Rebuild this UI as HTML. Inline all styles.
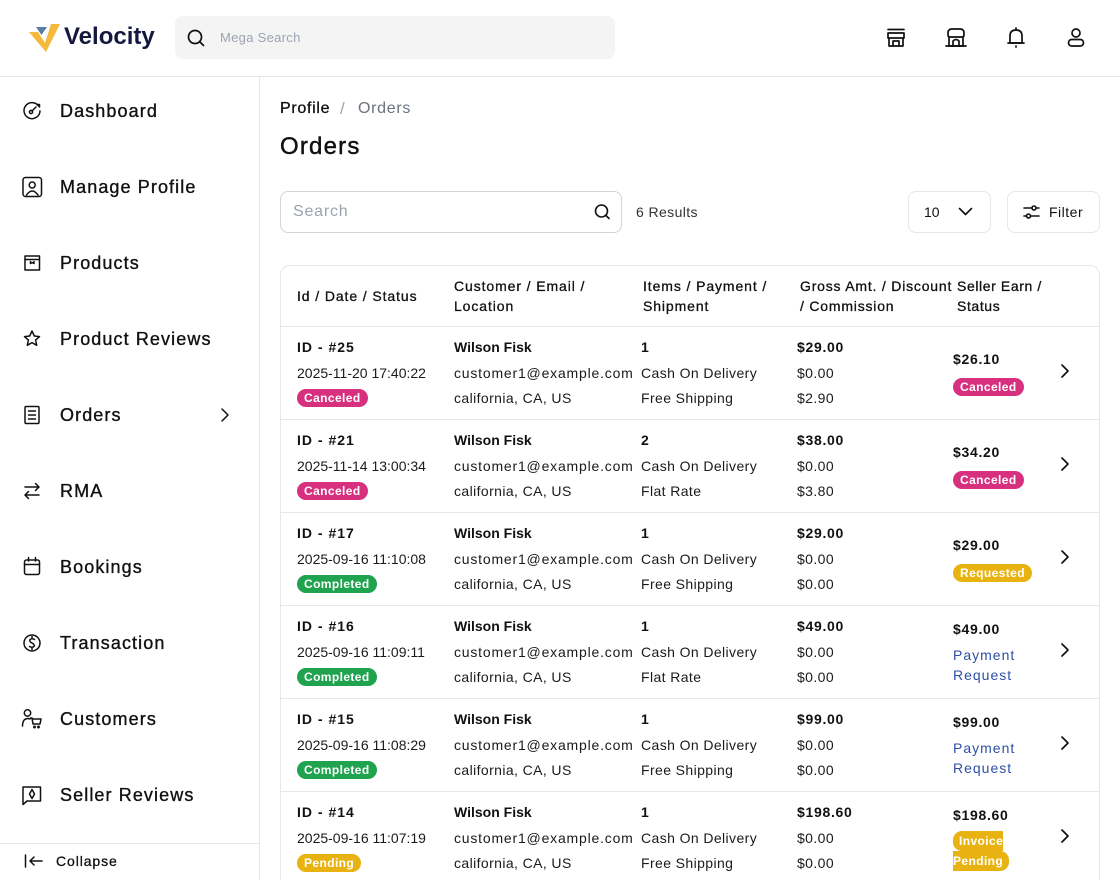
<!DOCTYPE html>
<html>
<head>
<meta charset="utf-8">
<style>
*{box-sizing:border-box;}
html{margin:0;padding:0;width:1120px;height:880px;overflow:hidden;}
body{margin:0;padding:0;width:1120px;height:880px;overflow:hidden;position:relative;background:#fff;font-family:"Liberation Sans",sans-serif;color:#111;}
.a{position:absolute;white-space:nowrap;}
.nav{position:absolute;left:60px;font-size:18px;line-height:24px;height:24px;letter-spacing:1.1px;-webkit-text-stroke:0.35px #111;color:#111;}
.t{position:absolute;white-space:nowrap;font-size:14px;line-height:20px;height:20px;letter-spacing:0.4px;color:#1a1a1a;}
.b{font-weight:bold;color:#111;}
.th{position:absolute;white-space:nowrap;font-size:14px;line-height:20px;letter-spacing:0.9px;-webkit-text-stroke:0.3px #111;color:#111;}
.badge{position:absolute;height:18px;line-height:18px;border-radius:9px;padding:0 7px;color:#fff;font-weight:bold;font-size:12px;letter-spacing:0.4px;white-space:nowrap;}
.pink{background:#d6307f;}
.green{background:#1fa34e;}
.yel{background:#e8b310;}
.hl{position:absolute;left:0;right:0;height:1px;background:#e5e7eb;}
.blue{color:#2c4fa6;letter-spacing:1px;}
svg{position:absolute;overflow:visible;}
</style>
</head>
<body>

<!-- Header -->
<svg style="left:0;top:0" width="70" height="60">
  <polygon points="29,32 38,32 45,43 51,24 60,24 46,52" fill="#f6b93b"/>
  <polygon points="36,27 47,27 41.5,35" fill="#5a7ea6"/>
</svg>
<div class="a" style="left:64px;top:22px;font-size:24px;line-height:30px;font-weight:bold;color:#15173f;letter-spacing:0px;">Velocity</div>

<div class="a" style="left:175px;top:16px;width:440px;height:43px;background:#f4f4f5;border-radius:8px;"></div>
<svg style="left:0;top:0" width="10" height="10">
  <circle cx="195" cy="37" r="6.5" fill="none" stroke="#111" stroke-width="1.7"/>
  <line x1="199.5" y1="41.5" x2="203.5" y2="45.5" stroke="#111" stroke-width="1.7" stroke-linecap="round"/>
</svg>
<div class="a" style="left:220px;top:29px;font-size:13px;line-height:18px;color:#9ca3af;letter-spacing:0.3px;">Mega Search</div>

<svg style="left:0;top:0" width="10" height="10" fill="none" stroke="#111" stroke-width="1.7" stroke-linejoin="round" stroke-linecap="round">
  <!-- store 1 -->
  <line x1="888" y1="29.5" x2="904" y2="29.5"/>
  <rect x="888" y="33" width="16" height="5"/>
  <path d="M889 38 V46 H903 V38"/>
  <path d="M893 46 V41 H899 V46"/>
  <!-- store 2 -->
  <path d="M948 33 Q948 29 952 29 H960 Q964 29 964 33 V35 Q964 37 962 37 H950 Q948 37 948 35 Z"/>
  <path d="M949 37 V46 H963 V37"/>
  <path d="M953 46 V41 Q956 38 959 41 V46"/>
  <line x1="946" y1="46" x2="966" y2="46"/>
  <!-- bell -->
  <path d="M1010 43 V36 Q1010 30 1016 30 Q1022 30 1022 36 V43 Z"/>
  <line x1="1008" y1="43" x2="1024" y2="43"/>
  <line x1="1016" y1="28" x2="1016" y2="30"/>
  <line x1="1016" y1="46" x2="1016" y2="47"/>
  <!-- user -->
  <circle cx="1076" cy="33" r="4"/>
  <rect x="1068.5" y="39.5" width="15" height="6.5" rx="3.2"/>
</svg>

<div class="a" style="left:0;top:76px;width:1120px;height:1px;background:#e5e7eb;"></div>

<!-- Sidebar -->
<div class="a" style="left:259px;top:77px;width:1px;height:803px;background:#e5e7eb;"></div>
<div class="a" style="left:0;top:843px;width:259px;height:1px;background:#e5e7eb;"></div>

<svg style="left:0;top:0" width="10" height="10" fill="none" stroke="#111" stroke-width="1.5" stroke-linejoin="round" stroke-linecap="round">
  <!-- dashboard -->
  <path d="M38.5 106 A8 8 0 1 0 40 111"/>
  <circle cx="31" cy="112" r="1.6"/>
  <line x1="32" y1="111" x2="36" y2="107"/>
  <path d="M37 104.5 L39.5 104.5 L39.5 107"/>
  <!-- manage profile -->
  <rect x="23" y="177.5" width="18.5" height="19" rx="2.5"/>
  <circle cx="32.2" cy="185" r="3"/>
  <path d="M26.5 195 Q32.2 187 38 195"/>
  <!-- products -->
  <rect x="25" y="256" width="14.5" height="14"/>
  <line x1="25" y1="259.5" x2="39.5" y2="259.5"/>
  <path d="M30.5 261.5 V263.5 L32.2 262.5 L34 263.5 V261.5"/>
  <!-- star -->
  <path d="M32 331 L34.3 336 L39.5 336.6 L35.6 340.1 L36.7 345.3 L32 342.6 L27.3 345.3 L28.4 340.1 L24.5 336.6 L29.7 336 Z"/>
  <!-- orders -->
  <rect x="25" y="406.5" width="14" height="17" rx="1.2"/>
  <line x1="28.5" y1="411" x2="35.5" y2="411"/>
  <line x1="28.5" y1="415" x2="35.5" y2="415"/>
  <line x1="28.5" y1="419" x2="35.5" y2="419"/>
  <!-- rma -->
  <path d="M25 487 H39 M35.5 483.5 L39 487 L35.5 490.5"/>
  <path d="M39 495 H25 M28.5 491.5 L25 495 L28.5 498.5"/>
  <!-- bookings -->
  <rect x="24.5" y="560" width="15" height="14.5" rx="2"/>
  <line x1="24.5" y1="564.5" x2="39.5" y2="564.5"/>
  <line x1="28.5" y1="557.5" x2="28.5" y2="561"/>
  <line x1="35.5" y1="557.5" x2="35.5" y2="561"/>
  <!-- transaction -->
  <circle cx="32" cy="643" r="8"/>
  <path d="M34.5 639.5 Q32 638 30 639.5 Q29 641.5 32 643 Q35 644.5 34 646.5 Q32 648 29.5 646.5"/>
  <line x1="32" y1="636.5" x2="32" y2="638"/>
  <line x1="32" y1="648" x2="32" y2="649.5"/>
  <!-- customers -->
  <circle cx="27.5" cy="713" r="3.2"/>
  <path d="M22.5 726 Q22.5 719 27.5 718.5 Q29 718.5 30 719"/>
  <path d="M30.5 718 H32 L33 724 H40 L41 719 H33"/>
  <circle cx="34.5" cy="727" r="0.7"/>
  <circle cx="38.5" cy="727" r="0.7"/>
  <!-- seller reviews -->
  <path d="M23 787 H40.5 V801 H27 L23 804.5 Z"/>
  <path d="M32 789.5 L34.5 794 L32 798.5 L29.5 794 Z"/>
  <!-- orders chevron -->
  <polyline points="222,409 228,415 222,421"/>
  <!-- collapse -->
  <line x1="25.5" y1="855" x2="25.5" y2="867"/>
  <path d="M42 861 H30 M34 857 L30 861 L34 865"/>
</svg>

<div class="nav" style="top:99px;">Dashboard</div>
<div class="nav" style="top:175px;">Manage Profile</div>
<div class="nav" style="top:251px;">Products</div>
<div class="nav" style="top:327px;">Product Reviews</div>
<div class="nav" style="top:403px;">Orders</div>
<div class="nav" style="top:479px;">RMA</div>
<div class="nav" style="top:555px;">Bookings</div>
<div class="nav" style="top:631px;">Transaction</div>
<div class="nav" style="top:707px;">Customers</div>
<div class="nav" style="top:783px;">Seller Reviews</div>
<div class="a" style="left:56px;top:851px;font-size:14px;line-height:20px;letter-spacing:0.9px;-webkit-text-stroke:0.3px #111;">Collapse</div>

<!-- Main -->
<div class="a" style="left:280px;top:98px;font-size:16px;line-height:22px;letter-spacing:0.7px;-webkit-text-stroke:0.3px #111;">Profile</div>
<div class="a" style="left:340px;top:98px;font-size:17px;line-height:22px;color:#9ca3af;">/</div>
<div class="a" style="left:358px;top:98px;font-size:16px;line-height:22px;letter-spacing:0.7px;color:#6b7280;">Orders</div>
<div class="a" style="left:280px;top:132px;font-size:24px;line-height:30px;letter-spacing:1.2px;-webkit-text-stroke:0.45px #111;">Orders</div>

<div class="a" style="left:280px;top:191px;width:342px;height:42px;border:1px solid #d1d5db;border-radius:8px;"></div>
<div class="a" style="left:293px;top:201px;font-size:16px;line-height:22px;color:#9ca3af;letter-spacing:0.8px;">Search</div>
<svg style="left:0;top:0" width="10" height="10" fill="none" stroke="#111" stroke-width="1.6" stroke-linecap="round" stroke-linejoin="round">
  <circle cx="601.5" cy="211" r="6"/>
  <line x1="606" y1="215.5" x2="609" y2="218.5"/>
  <polyline points="959.5,208.5 965.5,214.5 971.5,208.5"/>
  <line x1="1024" y1="208" x2="1039" y2="208"/>
  <line x1="1024" y1="216" x2="1039" y2="216"/>
  <circle cx="1034" cy="208" r="2" fill="#fff"/>
  <circle cx="1028.5" cy="216" r="2" fill="#fff"/>
</svg>
<div class="a" style="left:636px;top:202px;font-size:14px;line-height:20px;letter-spacing:0.4px;color:#333;">6 Results</div>

<div class="a" style="left:908px;top:191px;width:83px;height:42px;border:1px solid #e5e7eb;border-radius:8px;"></div>
<div class="a" style="left:924px;top:202px;font-size:14px;line-height:20px;">10</div>
<div class="a" style="left:1007px;top:191px;width:93px;height:42px;border:1px solid #e5e7eb;border-radius:8px;"></div>
<div class="a" style="left:1049px;top:202px;font-size:14px;line-height:20px;letter-spacing:0.5px;">Filter</div>

<!-- Table -->
<div class="a" style="left:280px;top:265px;width:820px;height:615px;border:1px solid #e5e7eb;border-bottom:none;border-radius:10px 10px 0 0;"></div>
<div class="a" style="left:280px;top:326px;width:820px;height:554px;">
  <div class="hl" style="top:0"></div>
  <div class="hl" style="top:93px"></div>
  <div class="hl" style="top:186px"></div>
  <div class="hl" style="top:279px"></div>
  <div class="hl" style="top:372px"></div>
  <div class="hl" style="top:465px"></div>
</div>

<div class="th" style="left:297px;top:286px;">Id / Date / Status</div>
<div class="th" style="left:454px;top:276px;">Customer / Email /<br>Location</div>
<div class="th" style="left:643px;top:276px;">Items / Payment /<br>Shipment</div>
<div class="th" style="left:800px;top:276px;letter-spacing:0.8px;">Gross Amt. / Discount<br>/ Commission</div>
<div class="th" style="left:957px;top:276px;letter-spacing:0.6px;">Seller Earn /<br>Status</div>

<!-- Row 1: top 326 -->
<div class="t b" style="left:297px;top:337px;letter-spacing:1px;">ID - #25</div>
<div class="t" style="left:297px;top:363px;letter-spacing:0;">2025-11-20 17:40:22</div>
<div class="badge pink" style="left:297px;top:389px;">Canceled</div>
<div class="t b" style="left:454px;top:337px;letter-spacing:0;">Wilson Fisk</div>
<div class="t" style="left:454px;top:363px;letter-spacing:0.8px;">customer1@example.com</div>
<div class="t" style="left:454px;top:388px;">california, CA, US</div>
<div class="t b" style="left:641px;top:337px;">1</div>
<div class="t" style="left:641px;top:363px;">Cash On Delivery</div>
<div class="t" style="left:641px;top:388px;">Free Shipping</div>
<div class="t b" style="left:797px;top:337px;letter-spacing:0.7px;">$29.00</div>
<div class="t" style="left:797px;top:363px;">$0.00</div>
<div class="t" style="left:797px;top:388px;">$2.90</div>
<div class="t b" style="left:953px;top:349px;letter-spacing:0.7px;">$26.10</div>
<div class="badge pink" style="left:953px;top:378px;">Canceled</div>

<!-- Row 2: top 419 -->
<div class="t b" style="left:297px;top:430px;letter-spacing:1px;">ID - #21</div>
<div class="t" style="left:297px;top:456px;letter-spacing:0;">2025-11-14 13:00:34</div>
<div class="badge pink" style="left:297px;top:482px;">Canceled</div>
<div class="t b" style="left:454px;top:430px;letter-spacing:0;">Wilson Fisk</div>
<div class="t" style="left:454px;top:456px;letter-spacing:0.8px;">customer1@example.com</div>
<div class="t" style="left:454px;top:481px;">california, CA, US</div>
<div class="t b" style="left:641px;top:430px;">2</div>
<div class="t" style="left:641px;top:456px;">Cash On Delivery</div>
<div class="t" style="left:641px;top:481px;">Flat Rate</div>
<div class="t b" style="left:797px;top:430px;letter-spacing:0.7px;">$38.00</div>
<div class="t" style="left:797px;top:456px;">$0.00</div>
<div class="t" style="left:797px;top:481px;">$3.80</div>
<div class="t b" style="left:953px;top:442px;letter-spacing:0.7px;">$34.20</div>
<div class="badge pink" style="left:953px;top:471px;">Canceled</div>

<!-- Row 3: top 512 -->
<div class="t b" style="left:297px;top:523px;letter-spacing:1px;">ID - #17</div>
<div class="t" style="left:297px;top:549px;letter-spacing:0;">2025-09-16 11:10:08</div>
<div class="badge green" style="left:297px;top:575px;">Completed</div>
<div class="t b" style="left:454px;top:523px;letter-spacing:0;">Wilson Fisk</div>
<div class="t" style="left:454px;top:549px;letter-spacing:0.8px;">customer1@example.com</div>
<div class="t" style="left:454px;top:574px;">california, CA, US</div>
<div class="t b" style="left:641px;top:523px;">1</div>
<div class="t" style="left:641px;top:549px;">Cash On Delivery</div>
<div class="t" style="left:641px;top:574px;">Free Shipping</div>
<div class="t b" style="left:797px;top:523px;letter-spacing:0.7px;">$29.00</div>
<div class="t" style="left:797px;top:549px;">$0.00</div>
<div class="t" style="left:797px;top:574px;">$0.00</div>
<div class="t b" style="left:953px;top:535px;letter-spacing:0.7px;">$29.00</div>
<div class="badge yel" style="left:953px;top:564px;">Requested</div>

<!-- Row 4: top 605 -->
<div class="t b" style="left:297px;top:616px;letter-spacing:1px;">ID - #16</div>
<div class="t" style="left:297px;top:642px;letter-spacing:0;">2025-09-16 11:09:11</div>
<div class="badge green" style="left:297px;top:668px;">Completed</div>
<div class="t b" style="left:454px;top:616px;letter-spacing:0;">Wilson Fisk</div>
<div class="t" style="left:454px;top:642px;letter-spacing:0.8px;">customer1@example.com</div>
<div class="t" style="left:454px;top:667px;">california, CA, US</div>
<div class="t b" style="left:641px;top:616px;">1</div>
<div class="t" style="left:641px;top:642px;">Cash On Delivery</div>
<div class="t" style="left:641px;top:667px;">Flat Rate</div>
<div class="t b" style="left:797px;top:616px;letter-spacing:0.7px;">$49.00</div>
<div class="t" style="left:797px;top:642px;">$0.00</div>
<div class="t" style="left:797px;top:667px;">$0.00</div>
<div class="t b" style="left:953px;top:619px;letter-spacing:0.7px;">$49.00</div>
<div class="t blue" style="left:953px;top:645px;">Payment</div>
<div class="t blue" style="left:953px;top:665px;">Request</div>

<!-- Row 5: top 698 -->
<div class="t b" style="left:297px;top:709px;letter-spacing:1px;">ID - #15</div>
<div class="t" style="left:297px;top:735px;letter-spacing:0;">2025-09-16 11:08:29</div>
<div class="badge green" style="left:297px;top:761px;">Completed</div>
<div class="t b" style="left:454px;top:709px;letter-spacing:0;">Wilson Fisk</div>
<div class="t" style="left:454px;top:735px;letter-spacing:0.8px;">customer1@example.com</div>
<div class="t" style="left:454px;top:760px;">california, CA, US</div>
<div class="t b" style="left:641px;top:709px;">1</div>
<div class="t" style="left:641px;top:735px;">Cash On Delivery</div>
<div class="t" style="left:641px;top:760px;">Free Shipping</div>
<div class="t b" style="left:797px;top:709px;letter-spacing:0.7px;">$99.00</div>
<div class="t" style="left:797px;top:735px;">$0.00</div>
<div class="t" style="left:797px;top:760px;">$0.00</div>
<div class="t b" style="left:953px;top:712px;letter-spacing:0.7px;">$99.00</div>
<div class="t blue" style="left:953px;top:738px;">Payment</div>
<div class="t blue" style="left:953px;top:758px;">Request</div>

<!-- Row 6: top 791 -->
<div class="t b" style="left:297px;top:802px;letter-spacing:1px;">ID - #14</div>
<div class="t" style="left:297px;top:828px;letter-spacing:0;">2025-09-16 11:07:19</div>
<div class="badge yel" style="left:297px;top:854px;">Pending</div>
<div class="t b" style="left:454px;top:802px;letter-spacing:0;">Wilson Fisk</div>
<div class="t" style="left:454px;top:828px;letter-spacing:0.8px;">customer1@example.com</div>
<div class="t" style="left:454px;top:853px;">california, CA, US</div>
<div class="t b" style="left:641px;top:802px;">1</div>
<div class="t" style="left:641px;top:828px;">Cash On Delivery</div>
<div class="t" style="left:641px;top:853px;">Free Shipping</div>
<div class="t b" style="left:797px;top:802px;letter-spacing:0.7px;">$198.60</div>
<div class="t" style="left:797px;top:828px;">$0.00</div>
<div class="t" style="left:797px;top:853px;">$0.00</div>
<div class="t b" style="left:953px;top:805px;letter-spacing:0.7px;">$198.60</div>
<div class="a" style="left:953px;top:831px;font-size:12px;line-height:20px;font-weight:bold;color:#fff;letter-spacing:0.4px;white-space:normal;"><span style="background:#e8b310;border-radius:9px;padding:3px 6px;">Invoice<br>Pending</span></div>

<!-- row chevrons -->
<svg style="left:0;top:0" width="10" height="10" fill="none" stroke="#111" stroke-width="1.7" stroke-linecap="round" stroke-linejoin="round">
  <polyline points="1062,365 1068,371 1062,377"/>
  <polyline points="1062,458 1068,464 1062,470"/>
  <polyline points="1062,551 1068,557 1062,563"/>
  <polyline points="1062,644 1068,650 1062,656"/>
  <polyline points="1062,737 1068,743 1062,749"/>
  <polyline points="1062,830 1068,836 1062,842"/>
</svg>

</body>
</html>
